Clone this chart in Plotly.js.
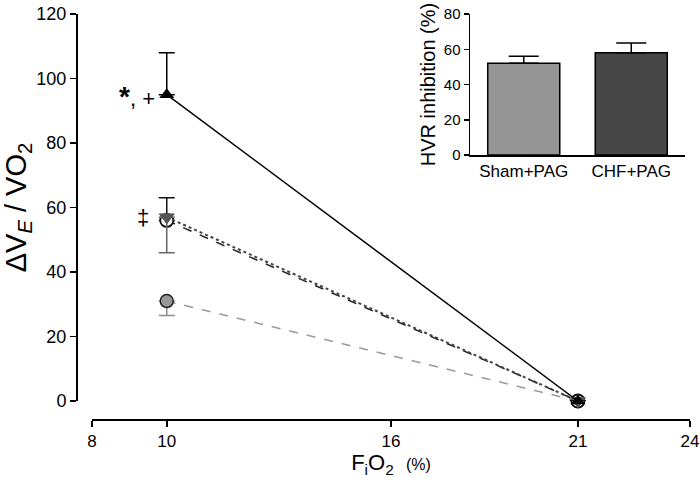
<!DOCTYPE html>
<html>
<head>
<meta charset="utf-8">
<script src="https://cdn.plot.ly/plotly-3.0.1.min.js"></script>
<style>html,body{margin:0;padding:0;background:#fff;}#chart{width:700px;height:478px;}</style>
</head>
<body>
<div id="chart"></div>
<script>
// Main chart data
var fio2 = [10, 21];
var chfPag = [95, 0];          // black triangle up
var chfPagErrUp = [13, 0];
var chfVeh = [56, 0];          // open circle
var chfVehErrUp = [7, 0];
var shamVeh = [57, 0];         // dark gray triangle down
var shamVehErrDown = [11, 0];
var shamPag = [31, 0];         // gray circle
var shamPagErrDown = [4.5, 0];

// Inset data
var insetCats = ['Sham+PAG', 'CHF+PAG'];
var insetVals = [52, 58];
var insetErr = [4, 5.5];
var insetColors = ['#959595', '#474747'];

var xTicks = [8, 10, 16, 21, 24];
var yTicks = [0, 20, 40, 60, 80, 100, 120];
var insetTicks = [0, 20, 40, 60, 80];

var FONT = 'Liberation Sans, Arial, sans-serif';

var traces = [
  {x: fio2, y: shamPag, type: 'scatter', mode: 'lines+markers',
   line: {color: '#9a9a9a', width: 1.5, dash: 'dash'},
   marker: {symbol: 'circle', size: 13, color: '#999999', line: {color: '#222', width: 1.5}},
   error_y: {type: 'data', symmetric: false, array: [0, 0], arrayminus: shamPagErrDown, color: '#8a8a8a', thickness: 1.5, width: 8},
   showlegend: false, cliponaxis: false},
  {x: fio2, y: chfVeh, type: 'scatter', mode: 'lines+markers',
   line: {color: '#222', width: 1.5, dash: 'dash'},
   marker: {symbol: 'circle', size: 13, color: '#ffffff', line: {color: '#111', width: 1.8}},
   error_y: {type: 'data', symmetric: false, array: chfVehErrUp, arrayminus: [0, 0], color: '#111', thickness: 1.5, width: 8},
   showlegend: false, cliponaxis: false},
  {x: fio2, y: shamVeh, type: 'scatter', mode: 'lines+markers',
   line: {color: '#444', width: 2, dash: 'dot'},
   marker: {symbol: 'triangle-down', size: 13, color: '#555555', line: {color: '#555', width: 1}},
   error_y: {type: 'data', symmetric: false, array: [0, 0], arrayminus: shamVehErrDown, color: '#666', thickness: 1.5, width: 8},
   showlegend: false, cliponaxis: false},
  {x: fio2, y: chfPag, type: 'scatter', mode: 'lines+markers',
   line: {color: '#000', width: 1.5},
   marker: {symbol: 'triangle-up', size: 13, color: '#000'},
   error_y: {type: 'data', symmetric: false, array: chfPagErrUp, arrayminus: [0, 0], color: '#000', thickness: 1.5, width: 8},
   showlegend: false, cliponaxis: false},
  {x: insetCats, y: insetVals, type: 'bar', xaxis: 'x2', yaxis: 'y2',
   width: 0.67,
   marker: {color: insetColors, line: {color: '#000', width: 1.5}},
   error_y: {type: 'data', symmetric: false, array: insetErr, arrayminus: [0, 0], color: '#000', thickness: 1.5, width: 15},
   showlegend: false}
];

var W = 614, H = 405;
var layout = {
  width: 700, height: 478,
  margin: {l: 76, r: 10, t: 14, b: 59},
  paper_bgcolor: '#fff', plot_bgcolor: 'rgba(0,0,0,0)',
  font: {family: FONT, color: '#000'},
  xaxis: {
    domain: [16 / W, 1], range: [8, 24], anchor: 'free', position: 0,
    tickvals: xTicks, ticktext: xTicks.map(String),
    showline: true, linecolor: '#000', linewidth: 1.5,
    ticks: 'outside', ticklen: 6, tickwidth: 1.5, tickcolor: '#000',
    showgrid: false, zeroline: false,
    tickfont: {size: 17, family: FONT},
    title: {text: 'F<sub>i</sub>O<sub>2</sub>  <span style="font-size:16px">(%)</span>', font: {size: 22, family: FONT}, standoff: 6}
  },
  yaxis: {
    domain: [18 / H, 1], range: [0, 120], anchor: 'free', position: 0,
    tickvals: yTicks, ticktext: yTicks.map(String),
    showline: true, linecolor: '#000', linewidth: 1.5,
    ticks: 'outside', ticklen: 6, tickwidth: 1.5, tickcolor: '#000',
    showgrid: false, zeroline: false,
    tickfont: {size: 18, family: FONT},
    title: {text: 'ΔV<sub><i>E</i></sub> / VO<sub>2</sub>', font: {size: 29, family: FONT}, standoff: 8}
  },
  xaxis2: {
    domain: [(470 - 76) / W, (685 - 76) / W], range: [-0.5, 1.5], anchor: 'y2', type: 'category',
    showline: true, linecolor: '#000', linewidth: 1.5,
    ticks: '', showgrid: false, zeroline: false,
    tickfont: {size: 17, family: FONT}
  },
  yaxis2: {
    domain: [(419 - 155) / H, 1], range: [0, 80], anchor: 'x2',
    tickvals: insetTicks, ticktext: insetTicks.map(String),
    showline: true, linecolor: '#000', linewidth: 1.5,
    ticks: 'outside', ticklen: 5, tickwidth: 1.5, tickcolor: '#000',
    showgrid: false, zeroline: false,
    tickfont: {size: 15, family: FONT},
    title: {text: 'HVR inhibition (%)', font: {size: 20, family: FONT}, standoff: 3}
  },
  annotations: [
    {x: 10, y: chfPag[0], xref: 'x', yref: 'y', text: '<b><span style="font-size:28px">*</span></b>, +', showarrow: false,
     xanchor: 'right', xshift: -10, yshift: -2, font: {size: 22, family: FONT}},
    {x: 10, y: shamVeh[0], xref: 'x', yref: 'y', text: '‡', showarrow: false,
     xanchor: 'right', xshift: -16, font: {size: 22, family: FONT}}
  ]
};

Plotly.newPlot('chart', traces, layout, {displayModeBar: false, staticPlot: true});
</script>
</body>
</html>
